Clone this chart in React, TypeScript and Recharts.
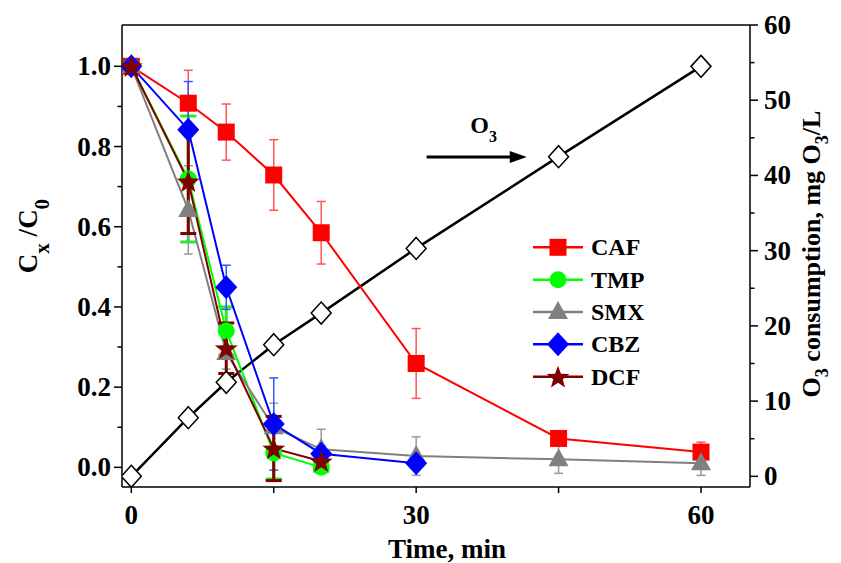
import React from 'react';
import { LineChart, Line, XAxis, YAxis, ErrorBar, ReferenceLine } from 'recharts';

const FONT = '"Liberation Serif", "Times New Roman", serif';

// sampling times, min
const time = [0, 6, 10, 15, 20, 30, 45, 60];

// C/C0 for each compound, with standard deviations
const caf = [1.0, 0.908, 0.836, 0.729, 0.585, 0.259, 0.072, 0.038];
const cafErr = [0, 0.082, 0.07, 0.088, 0.078, 0.087, 0.012, 0.025];
const tmp = [1.0, 0.719, 0.34, 0.036, 0.0];
const tmpErr = [0, 0.157, 0.06, 0.065, 0.01];
const smx = [1.0, 0.642, 0.285, 0.1, 0.045, 0.028, 0.02, 0.01];
const smxErr = [0, 0.11, 0.04, 0.06, 0.05, 0.048, 0.035, 0.03];
const cbz = [1.0, 0.842, 0.449, 0.108, 0.034, 0.01];
const cbzErr = [0, 0.12, 0.055, 0.115, 0.02, 0.005];
const dcf = [1.0, 0.713, 0.297, 0.047, 0.015];
const dcfErr = [0, 0.13, 0.063, 0.08, 0.02];

// ozone consumption, mg O3/L
const o3 = [0, 7.8, 12.5, 17.5, 21.7, 30.3, 42.5, 54.5];

const xTicks = [0, 15, 30, 45, 60];
const xLabels = [0, 30, 60];
const leftTicks = [0, 0.1, 0.2, 0.3, 0.4, 0.5, 0.6, 0.7, 0.8, 0.9, 1.0];
const rightTicks = [0, 5, 10, 15, 20, 25, 30, 35, 40, 45, 50, 55, 60];

const X_DOMAIN: [number, number] = [-0.98, 65.16];
const LEFT_DOMAIN: [number, number] = [-0.049, 1.103];
const RIGHT_DOMAIN: [number, number] = [-1.42, 60];

type Shape = 'square' | 'circle' | 'triangle' | 'diamond' | 'star' | 'open';

const toRows = (vals: number[], errs?: number[]) =>
  vals.map((v, i) => ({ t: time[i], v, e: errs ? errs[i] : 0 }));

interface SeriesDef {
  name: string;
  rows: { t: number; v: number; e: number }[];
  color: string;
  errColor: string;
  errStroke: number;
  cap: number;
  shape: Shape;
}

const series: SeriesDef[] = [
  { name: 'CAF', rows: toRows(caf, cafErr), color: '#ff0000', errColor: '#ff5555', errStroke: 1.5, cap: 4.5, shape: 'square' },
  { name: 'TMP', rows: toRows(tmp, tmpErr), color: '#00ff00', errColor: '#22ee22', errStroke: 3, cap: 8, shape: 'circle' },
  { name: 'SMX', rows: toRows(smx, smxErr), color: '#808080', errColor: '#999999', errStroke: 1.5, cap: 4.5, shape: 'triangle' },
  { name: 'CBZ', rows: toRows(cbz, cbzErr), color: '#0000ff', errColor: '#3355ff', errStroke: 1.5, cap: 4.5, shape: 'diamond' },
  { name: 'DCF', rows: toRows(dcf, dcfErr), color: '#800000', errColor: '#800000', errStroke: 3, cap: 8, shape: 'star' },
];

const o3Rows = toRows(o3);

function starPoints(cx: number, cy: number, ro: number, ri: number) {
  const pts: string[] = [];
  for (let i = 0; i < 10; i++) {
    const r = i % 2 === 0 ? ro : ri;
    const a = -Math.PI / 2 + (i * Math.PI) / 5;
    pts.push(`${cx + r * Math.cos(a)},${cy + r * Math.sin(a)}`);
  }
  return pts.join(' ');
}

function Marker({ cx, cy, shape, color }: { cx: number; cy: number; shape: Shape; color: string }) {
  if (cx == null || cy == null) return <g />;
  switch (shape) {
    case 'square':
      return <rect x={cx - 8.5} y={cy - 8.5} width={17} height={17} fill={color} />;
    case 'circle':
      return <circle cx={cx} cy={cy} r={8.5} fill={color} />;
    case 'triangle':
      return <polygon points={`${cx},${cy - 11} ${cx + 10},${cy + 7} ${cx - 10},${cy + 7}`} fill={color} />;
    case 'diamond':
      return <polygon points={`${cx},${cy - 12} ${cx + 11},${cy} ${cx},${cy + 12} ${cx - 11},${cy}`} fill={color} />;
    case 'star':
      return <polygon points={starPoints(cx, cy + 1, 12, 5)} fill={color} />;
    default:
      return (
        <polygon
          points={`${cx},${cy - 11} ${cx + 10},${cy} ${cx},${cy + 11} ${cx - 10},${cy}`}
          fill="#ffffff"
          stroke="#000000"
          strokeWidth={1.5}
        />
      );
  }
}

const textStyle = { fontFamily: FONT, fontWeight: 700, fill: '#000' } as const;

function XTick(props: any) {
  const { x, y, payload } = props;
  if (!xLabels.includes(payload.value)) return <g />;
  return (
    <text x={x} y={y + 31} textAnchor="middle" fontSize={27} style={textStyle}>
      {payload.value}
    </text>
  );
}

function LeftTick(props: any) {
  const { x, y, payload } = props;
  const axisX = x + 11;
  const major = Math.round(payload.value * 10) % 2 === 0;
  return (
    <g>
      <line x1={axisX - (major ? 8 : 4.5)} y1={y} x2={axisX} y2={y} stroke="#000" strokeWidth={1.5} />
      {major && (
        <text x={x} y={y + 9} textAnchor="end" fontSize={27} style={textStyle}>
          {payload.value.toFixed(1)}
        </text>
      )}
    </g>
  );
}

function RightTick(props: any) {
  const { x, y, payload } = props;
  const axisX = x - 14;
  const major = payload.value % 10 === 0;
  return (
    <g>
      <line x1={axisX} y1={y} x2={axisX + (major ? 8 : 4.5)} y2={y} stroke="#000" strokeWidth={1.5} />
      {major && (
        <text x={x} y={y + 9} textAnchor="start" fontSize={27} style={textStyle}>
          {payload.value}
        </text>
      )}
    </g>
  );
}

function Arrow(props: any) {
  const { x1, y1, x2 } = props;
  return (
    <g>
      <line x1={x1} y1={y1} x2={x2 - 14} y2={y1} stroke="#000" strokeWidth={3} />
      <polygon points={`${x2},${y1} ${x2 - 17},${y1 - 6} ${x2 - 17},${y1 + 6}`} fill="#000" />
      <text x={(x1 + x2) / 2 + 7} y={y1 - 24} textAnchor="middle" fontSize={24} style={textStyle}>
        O<tspan dy={9} fontSize={16}>3</tspan>
      </text>
    </g>
  );
}

function LeftTitle(props: any) {
  const vb = props.viewBox || { x: 0, y: 25, width: 122, height: 461 };
  const cx = vb.x + 37;
  const cy = vb.y + vb.height / 2 - 20;
  return (
    <text transform={`rotate(-90, ${cx}, ${cy})`} x={cx} y={cy} textAnchor="middle" fontSize={27} style={textStyle}>
      C<tspan dy={12} fontSize={21}>x</tspan>
      <tspan dy={-12}>{'\u00a0/C'}</tspan>
      <tspan dy={12} fontSize={21}>0</tspan>
    </text>
  );
}

function RightTitle(props: any) {
  const vb = props.viewBox || { x: 750, y: 25, width: 91, height: 461 };
  const cx = vb.x + 70;
  const cy = vb.y + vb.height / 2 - 2;
  return (
    <text transform={`rotate(-90, ${cx}, ${cy})`} x={cx} y={cy} textAnchor="middle" fontSize={26} style={textStyle}>
      O<tspan dy={8} fontSize={18}>3</tspan>
      <tspan dy={-8}> consumption, mg O</tspan>
      <tspan dy={8} fontSize={18}>3</tspan>
      <tspan dy={-8}>/L</tspan>
    </text>
  );
}

function XTitle(props: any) {
  const vb = props.viewBox || { x: 122, y: 487, width: 628, height: 76 };
  return (
    <text x={vb.x + vb.width / 2 + 11} y={vb.y + 71} textAnchor="middle" fontSize={27} style={textStyle}>
      Time, min
    </text>
  );
}

function LegendBox() {
  return (
    <svg width={150} height={175} style={{ position: 'absolute', left: 520, top: 225, overflow: 'visible' }}>
      {series.map((s, i) => {
        const y = 22.3 + i * 32.35;
        return (
          <g key={s.name}>
            <line x1={13} y1={y} x2={63} y2={y} stroke={s.color} strokeWidth={2.5} />
            <Marker cx={38} cy={y} shape={s.shape} color={s.color} />
            <text x={71} y={y + 8} fontSize={24} style={textStyle}>
              {s.name}
            </text>
          </g>
        );
      })}
    </svg>
  );
}

export default function App() {
  return (
    <div style={{ position: 'absolute', left: 0, top: 0, width: 841, height: 563, background: '#fff' }}>
      <LineChart width={841} height={563} margin={{ top: 25, right: 0, bottom: 0, left: 0 }}>
        <XAxis
          dataKey="t"
          type="number"
          domain={X_DOMAIN}
          allowDataOverflow
          ticks={xTicks}
          interval={0}
          height={76}
          tickSize={6}
          tickMargin={0}
          tick={<XTick />}
          tickLine={{ stroke: '#000', strokeWidth: 1.5 }}
          axisLine={{ stroke: '#000', strokeWidth: 1.5 }}
          label={{ content: (p: any) => <XTitle {...p} /> }}
        />
        <YAxis
          yAxisId="left"
          orientation="left"
          type="number"
          domain={LEFT_DOMAIN}
          allowDataOverflow
          ticks={leftTicks}
          interval={0}
          width={122}
          tickSize={8}
          tickMargin={3}
          tick={<LeftTick />}
          tickLine={false}
          axisLine={{ stroke: '#000', strokeWidth: 1.5 }}
          label={{ content: (p: any) => <LeftTitle {...p} /> }}
        />
        <YAxis
          yAxisId="right"
          orientation="right"
          type="number"
          domain={RIGHT_DOMAIN}
          allowDataOverflow
          ticks={rightTicks}
          interval={0}
          width={91}
          tickSize={8}
          tickMargin={6}
          tick={<RightTick />}
          tickLine={false}
          axisLine={{ stroke: '#000', strokeWidth: 1.5 }}
          label={{ content: (p: any) => <RightTitle {...p} /> }}
        />
        <ReferenceLine yAxisId="left" y={LEFT_DOMAIN[1]} stroke="#000" strokeWidth={1.5} ifOverflow="visible" />
        <ReferenceLine
          yAxisId="left"
          segment={[
            { x: 31.1, y: 0.774 },
            { x: 41.65, y: 0.774 },
          ]}
          ifOverflow="visible"
          shape={(p: any) => <Arrow {...p} />}
        />
        <Line
          yAxisId="right"
          data={o3Rows}
          dataKey="v"
          stroke="#000"
          strokeWidth={2.5}
          isAnimationActive={false}
          dot={(p: any) => <Marker key={`o3-${p.index}`} cx={p.cx} cy={p.cy} shape="open" color="#000" />}
          activeDot={false}
        />
        {series.map((s) => (
          <Line
            key={s.name}
            yAxisId="left"
            data={s.rows}
            dataKey="v"
            name={s.name}
            stroke={s.color}
            strokeWidth={2}
            isAnimationActive={false}
            dot={(p: any) => <Marker key={`${s.name}-${p.index}`} cx={p.cx} cy={p.cy} shape={s.shape} color={s.color} />}
            activeDot={false}
          >
            <ErrorBar
              dataKey="e"
              direction="y"
              width={s.cap}
              stroke={s.errColor}
              strokeWidth={s.errStroke}
              isAnimationActive={false}
            />
          </Line>
        ))}
      </LineChart>
      <LegendBox />
    </div>
  );
}
